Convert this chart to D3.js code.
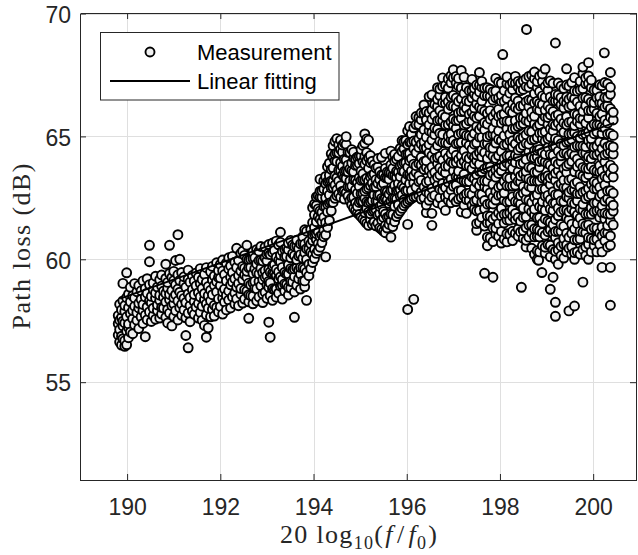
<!DOCTYPE html>
<html>
<head>
<meta charset="utf-8">
<script src="https://cdn.jsdelivr.net/npm/d3@7"></script>
<style>
  body { margin: 0; background: #fff; }
  svg { display: block; }
</style>
</head>
<body>
<div id="chart"></div>
<script>
// axis ticks
const xTicks = [190, 192, 194, 196, 198, 200];
const yTicks = [55, 60, 65, 70];
const legendLabels = ['Measurement', 'Linear fitting'];

// linear fit end points
const fitX = [189.85, 200.45];
const fitY = [58.4, 65.55];

// measured points, grouped by x position: [x, [y values]]
const measColumns = [
[189.81,[56.92,57.38,57.71]],
[189.84,[56.63,57.14,57.52,58.17]],
[189.88,[56.51,56.87,57.63,57.94]],
[189.91,[56.77,57.29,57.48,58.31,59.02]],
[189.95,[56.46,56.69,57.41,57.88,58.12]],
[189.99,[56.52,57.07,57.66,58.44,59.45]],
[190.03,[56.81,57.22,57.37,58.03,58.58]],
[190.07,[57.04,57.79,58.27,58.86]],
[190.12,[56.97,57.58,57.92,58.51]],
[190.16,[57.33,58.09,58.43,59.01]],
[190.21,[57.52,57.83,58.68]],
[190.25,[57.18,58.02,58.21,58.93]],
[190.3,[57.66,58.37,58.72]],
[190.34,[57.39,57.91,58.16,59.12]],
[190.39,[56.85,57.73,58.47,58.81]],
[190.43,[57.54,58.06,58.62,59.21]],
[190.48,[57.86,58.31,58.97,59.9,60.57]],
[190.52,[57.47,58.23,58.49]],
[190.56,[57.71,58.01,58.76,59.04]],
[190.61,[57.56,58.42,58.63,59.31]],
[190.65,[57.92,58.14,58.87]],
[190.7,[57.61,58.33,58.54,59.17]],
[190.74,[57.77,58.04,58.91,59.36]],
[190.78,[58.02,58.46,58.71]],
[190.83,[57.64,58.26,58.61,59.22,59.8]],
[190.87,[57.41,57.96,58.82,59.06]],
[190.91,[57.81,58.36,58.57,59.42,60.57]],
[190.96,[57.29,58.11,58.73,59.26]],
[191.0,[57.67,58.19,58.44,59.13,59.51]],
[191.04,[57.91,58.56,58.96,59.95]],
[191.09,[57.53,58.31,58.79,59.37,61.0]],
[191.13,[58.03,58.66,59.14,60.0]],
[191.17,[57.72,58.17,58.52,59.46]],
[191.22,[57.94,58.41,59.02,59.29]],
[191.26,[56.9,57.62,58.24,58.86]],
[191.31,[56.4,57.81,58.59,59.19,59.56]],
[191.35,[57.46,58.12,58.44,59.07]],
[191.4,[57.89,58.77,59.34]],
[191.44,[57.76,58.28,58.57,59.11]],
[191.48,[58.06,58.92,59.44]],
[191.53,[57.61,58.21,58.64,59.27]],
[191.57,[57.84,58.47,59.01,59.62]],
[191.61,[57.52,58.09,58.81,59.18]],
[191.66,[57.31,58.36,58.61,59.39]],
[191.7,[56.83,57.74,58.19,59.06,59.66]],
[191.74,[57.21,58.01,58.52,58.89]],
[191.79,[57.66,58.31,58.74,59.49]],
[191.83,[57.96,58.56,59.16,59.71]],
[191.87,[57.69,58.13,58.94,59.32]],
[191.92,[58.04,58.67,59.09,59.86]],
[191.96,[57.86,58.39,59.26,59.54]],
[192.0,[58.08,58.93,59.24,59.79]],
[192.05,[57.77,58.41,58.67,59.53,59.97]],
[192.09,[58.26,58.79,59.38]],
[192.13,[57.94,58.52,59.12,59.84]],
[192.18,[58.34,58.71,59.61,60.06]],
[192.22,[58.02,58.96,59.27,59.73]],
[192.26,[58.47,59.08,59.46,60.12]],
[192.31,[58.18,58.63,59.21,59.88]],
[192.35,[58.39,58.87,59.67,60.45]],
[192.39,[58.11,59.02,59.34,59.96]],
[192.44,[58.58,58.81,59.52,60.24]],
[192.48,[58.22,59.17,59.71,60.33]],
[192.52,[58.38,58.76,59.37,59.64,60.16]],
[192.57,[58.71,59.27,59.51,60.0,60.57]],
[192.61,[57.6,58.27,58.56,59.03,59.66,59.97]],
[192.65,[58.52,58.96,59.67,60.0]],
[192.7,[58.19,58.5,59.04,59.42,60.03,60.3]],
[192.74,[58.83,59.1,59.62,60.06]],
[192.78,[58.31,58.8,59.46,59.81,60.39]],
[192.83,[58.47,59.1,59.41,59.95,60.33]],
[192.87,[58.92,59.63,59.96,60.52]],
[192.91,[58.24,58.59,59.17,59.46,59.93]],
[192.96,[58.66,59.27,59.54,60.06,60.5]],
[193.0,[58.41,58.95,59.33,59.94,60.21]],
[193.04,[57.44,58.86,59.1,59.59,60.25,60.6]],
[193.07,[56.83,58.52,59.04,59.48,60.19]],
[193.12,[58.33,58.8,59.43,59.74,60.28,60.66]],
[193.16,[58.77,59.43,59.78,60.36]],
[193.2,[58.46,58.79,59.35,59.59,60.08,60.74]],
[193.25,[58.62,59.2,59.49,59.96,60.59]],
[193.29,[58.91,59.29,59.9,60.17,60.69,61.1]],
[193.33,[58.38,58.94,59.18,59.67,60.33]],
[193.38,[58.71,59.0,59.47,60.1,60.41]],
[193.42,[58.97,59.41,60.12,60.45]],
[193.46,[58.55,58.86,59.4,59.78,60.39,60.66]],
[193.51,[58.83,59.1,59.62,60.06,60.77]],
[193.55,[59.08,59.57,60.23,60.58]],
[193.59,[57.64,58.67,59.3,59.61,60.15,60.53]],
[193.64,[58.94,59.65,59.98,60.54,60.78]],
[193.68,[59.21,59.56,60.14,60.43]],
[193.72,[58.79,59.4,59.67,60.19,60.63]],
[193.77,[59.12,59.66,60.04,60.65,60.92]],
[193.81,[58.88,59.12,59.61,60.27,60.62,61.2]],
[193.85,[58.33,59.47,59.99,60.43,61.14]],
[193.9,[59.33,59.8,60.43,60.74]],
[193.94,[59.62,60.28,60.63,61.21]],
[193.98,[59.87,60.2,60.76,61.0,61.49,62.1]],
[194.02,[60.03,60.41,61.02,61.29,61.81,62.25]],
[194.06,[60.24,60.8,61.04,61.53,62.19,62.54]],
[194.1,[60.35,60.64,61.11,61.74,62.05,62.59]],
[194.14,[60.49,60.93,61.64,61.97,62.53,62.77,63.26]],
[194.18,[60.68,60.99,61.53,61.91,62.52,62.79]],
[194.22,[60.92,61.19,61.71,62.15,62.86,63.19]],
[194.26,[60.1,61.0,61.49,62.15,62.5,63.08,63.37]],
[194.3,[61.3,61.93,62.24,62.78,63.16,63.77]],
[194.34,[61.58,62.29,62.62,63.18,63.42,63.91]],
[194.38,[61.97,62.32,62.9,63.19,63.66,64.29]],
[194.42,[62.31,62.92,63.19,63.71,64.15,64.62]],
[194.46,[62.48,63.02,63.4,64.01,64.28,64.8]],
[194.5,[62.59,62.83,63.32,63.98,64.33,64.91]],
[194.54,[62.66,63.18,63.62,64.33,64.66]],
[194.58,[62.52,62.99,63.62,63.93,64.47,64.85]],
[194.62,[62.77,63.43,63.78,64.36,64.65]],
[194.66,[62.45,62.78,63.34,63.58,64.07,64.73]],
[194.7,[62.71,63.29,63.58,64.05,64.68,64.99]],
[194.74,[62.57,62.95,63.56,63.83,64.35]],
[194.78,[62.39,62.95,63.19,63.68,64.34]],
[194.82,[62.22,62.51,62.98,63.61,63.92,64.46]],
[194.86,[62.08,62.52,63.23,63.56,64.12,64.36]],
[194.9,[61.98,62.29,62.83,63.21,63.82,64.09]],
[194.94,[61.89,62.16,62.68,63.12,63.83,64.16]],
[194.98,[61.82,62.31,62.97,63.32,63.9,64.19]],
[195.02,[61.73,62.36,62.67,63.21,63.59,64.2,64.47]],
[195.06,[61.64,62.35,62.68,63.24,63.48,63.97,64.63]],
[195.1,[61.55,61.9,62.48,62.77,63.24,63.87,64.18,64.72,65.1]],
[195.14,[61.46,62.07,62.34,62.86,63.3,64.01,64.34,64.9]],
[195.18,[61.38,61.92,62.3,62.91,63.18,63.7,64.14,64.85]],
[195.22,[61.61,61.85,62.34,63.0,63.35,63.93,64.22]],
[195.26,[61.43,61.95,62.39,63.1,63.43,63.99]],
[195.3,[61.52,61.99,62.62,62.93,63.47,63.85]],
[195.34,[61.36,62.02,62.37,62.95,63.24,63.71]],
[195.38,[61.47,61.8,62.36,62.6,63.09,63.75,64.1]],
[195.42,[61.28,61.86,62.15,62.62,63.25,63.56]],
[195.46,[61.22,61.6,62.21,62.48,63.0,63.44,64.15]],
[195.5,[61.14,61.7,61.94,62.43,63.09,63.44]],
[195.54,[61.08,61.37,61.84,62.47,62.78,63.32,63.7,64.31]],
[195.58,[61.27,61.71,62.42,62.75,63.31,63.55]],
[195.62,[61.42,61.73,62.27,62.65,63.26,63.53]],
[195.66,[60.9,61.57,61.84,62.36,62.8,63.51,63.84,64.4]],
[195.7,[61.33,61.82,62.48,62.83,63.41,63.7,64.17]],
[195.74,[61.53,62.16,62.47,63.01,63.39,64.0,64.27]],
[195.78,[61.74,62.45,62.78,63.34,63.58,64.07]],
[195.82,[61.86,62.21,62.79,63.08,63.55,64.18]],
[195.86,[61.96,62.57,62.84,63.36,63.8,64.51]],
[195.9,[62.07,62.61,62.99,63.6,63.87,64.39,64.83]],
[195.94,[62.18,62.42,62.91,63.57,63.92,64.5,64.79]],
[195.98,[62.27,62.79,63.23,63.94,64.27,64.83]],
[196.02,[57.96,61.42,62.34,62.81,63.44,63.75,64.29,64.67,65.23]],
[196.06,[62.42,63.08,63.43,64.01,64.3,64.77,65.4]],
[196.1,[62.47,62.8,63.36,63.6,64.09,64.75,65.1]],
[196.15,[58.37,62.53,63.11,63.4,63.87,64.5,64.81,65.35]],
[196.2,[62.55,62.93,63.54,63.81,64.33,64.77,65.48,65.81]],
[196.26,[62.6,63.16,63.4,63.89,64.55,64.9,65.48,65.77]],
[196.31,[62.45,62.74,63.21,63.84,64.15,64.69,65.07,65.68,65.95]],
[196.37,[62.5,62.94,63.65,63.98,64.54,64.78,65.27,65.93,66.28]],
[196.42,[61.9,62.21,62.75,63.13,63.74,64.01,64.53,64.97,65.68,66.01]],
[196.48,[62.4,62.67,63.19,63.63,64.34,64.67,65.23,65.47,65.96,66.62]],
[196.54,[61.38,61.87,62.53,62.88,63.46,63.75,64.22,64.85,65.16,65.7,66.08,66.69]],
[196.6,[62.6,63.23,63.54,64.08,64.46,65.07,65.34,65.86,66.3]],
[196.66,[62.3,63.01,63.34,63.9,64.14,64.63,65.29,65.64,66.22,66.51,66.98]],
[196.71,[62.5,62.85,63.43,63.72,64.19,64.82,65.13,65.67,66.05,66.66,66.93]],
[196.77,[62.2,62.81,63.08,63.6,64.04,64.75,65.08,65.64,65.88,66.37,67.03,67.38]],
[196.83,[61.99,62.53,62.91,63.52,63.79,64.31,64.75,65.46,65.79,66.35,66.59,67.08]],
[196.89,[62.4,62.64,63.13,63.79,64.14,64.72,65.01,65.48,66.11,66.42,66.96,67.34]],
[196.95,[62.3,62.82,63.26,63.97,64.3,64.86,65.1,65.59,66.25,66.6,67.18,67.47]],
[197.0,[62.5,62.97,63.6,63.91,64.45,64.83,65.44,65.71,66.23,66.67,67.38,67.71]],
[197.06,[62.35,63.01,63.36,63.94,64.23,64.7,65.33,65.64,66.18,66.56,67.17,67.44]],
[197.11,[62.45,62.78,63.34,63.58,64.07,64.73,65.08,65.66,65.95,66.42,67.05,67.36]],
[197.17,[61.93,62.51,62.8,63.27,63.9,64.21,64.75,65.13,65.74,66.01,66.53,66.97,67.68]],
[197.23,[62.2,62.58,63.19,63.46,63.98,64.42,65.13,65.46,66.02,66.26,66.75,67.41]],
[197.28,[61.87,62.43,62.67,63.16,63.82,64.17,64.75,65.04,65.51,66.14,66.45,66.99]],
[197.34,[62.4,62.69,63.16,63.79,64.1,64.64,65.02,65.63,65.9,66.42,66.86]],
[197.4,[62.2,62.64,63.35,63.68,64.24,64.48,64.97,65.63,65.98,66.56,66.85,67.32]],
[197.45,[62.05,62.36,62.9,63.28,63.89,64.16,64.68,65.12,65.83,66.16,66.72,66.96]],
[197.5,[61.18,61.45,61.97,62.41,63.12,63.45,64.01,64.25,64.74,65.4,65.75,66.33,66.62,67.09]],
[197.56,[61.5,61.99,62.65,63.0,63.58,63.87,64.34,64.97,65.28,65.82,66.2,66.81,67.08,67.6]],
[197.61,[61.7,62.33,62.64,63.18,63.56,64.17,64.44,64.96,65.4,66.11,66.44,67.0,67.24]],
[197.67,[59.43,61.35,62.06,62.39,62.95,63.19,63.68,64.34,64.69,65.27,65.56,66.03,66.66,66.97]],
[197.73,[60.55,60.9,61.48,61.77,62.24,62.87,63.18,63.72,64.1,64.71,64.98,65.5,65.94,66.65,66.98]],
[197.79,[60.87,61.48,61.75,62.27,62.71,63.42,63.75,64.31,64.55,65.04,65.7,66.05,66.63,66.92]],
[197.85,[59.27,60.72,61.26,61.64,62.25,62.52,63.04,63.48,64.19,64.52,65.08,65.32,65.81,66.47,66.82]],
[197.91,[61.02,61.26,61.75,62.41,62.76,63.34,63.63,64.1,64.73,65.04,65.58,65.96,66.57,66.84,67.36]],
[197.97,[60.93,61.45,61.89,62.6,62.93,63.49,63.73,64.22,64.88,65.23,65.81,66.1,66.57,67.2]],
[198.03,[60.66,61.13,61.76,62.07,62.61,62.99,63.6,63.87,64.39,64.83,65.54,65.87,66.43,66.67,67.16]],
[198.06,[68.33]],
[198.09,[60.82,61.48,61.83,62.41,62.7,63.17,63.8,64.11,64.65,65.03,65.64,65.91,66.43,66.87]],
[198.15,[60.71,61.04,61.6,61.84,62.33,62.99,63.34,63.92,64.21,64.68,65.31,65.62,66.16,66.54,67.15,67.42]],
[198.21,[61.01,61.59,61.88,62.35,62.98,63.29,63.83,64.21,64.82,65.09,65.61,66.05,66.76,67.09]],
[198.27,[60.76,61.14,61.75,62.02,62.54,62.98,63.69,64.02,64.58,64.82,65.31,65.97,66.32,66.9,67.19]],
[198.33,[61.06,61.62,61.86,62.35,63.01,63.36,63.94,64.23,64.7,65.33,65.64,66.18,66.56,67.17,67.44]],
[198.39,[60.94,61.23,61.7,62.33,62.64,63.18,63.56,64.17,64.44,64.96,65.4,66.11,66.44,67.0,67.24]],
[198.44,[61.11,61.55,62.26,62.59,63.15,63.39,63.88,64.54,64.89,65.47,65.76,66.23,66.86,67.17]],
[198.46,[58.86]],
[198.5,[60.85,61.16,61.7,62.08,62.69,62.96,63.48,63.92,64.63,64.96,65.52,65.76,66.25,66.91,67.26]],
[198.56,[60.5,60.77,61.29,61.73,62.44,62.77,63.33,63.57,64.06,64.72,65.07,65.65,65.94,66.41,67.04,67.35]],
[198.57,[69.35]],
[198.62,[60.9,61.39,62.05,62.4,62.98,63.27,63.74,64.37,64.68,65.22,65.6,66.21,66.48,67.0,67.44]],
[198.68,[60.45,61.08,61.39,61.93,62.31,62.92,63.19,63.71,64.15,64.86,65.19,65.75,65.99,66.48,67.14,67.49]],
[198.74,[60.2,60.91,61.24,61.8,62.04,62.53,63.19,63.54,64.12,64.41,64.88,65.51,65.82,66.36,66.74,67.35,67.62]],
[198.8,[60.0,60.35,60.93,61.22,61.69,62.32,62.63,63.17,63.55,64.16,64.43,64.95,65.39,66.1,66.43,66.99,67.23]],
[198.83,[59.96]],
[198.85,[60.3,60.91,61.18,61.7,62.14,62.85,63.18,63.74,63.98,64.47,65.13,65.48,66.06,66.35,66.82,67.45]],
[198.9,[59.46]],
[198.91,[60.55,61.09,61.47,62.08,62.35,62.87,63.31,64.02,64.35,64.91,65.15,65.64,66.3,66.65,67.23,67.54]],
[198.97,[60.25,60.49,60.98,61.64,61.99,62.57,62.86,63.33,63.96,64.27,64.81,65.19,65.8,66.07,66.59,67.03,67.74]],
[199.03,[60.6,61.12,61.56,62.27,62.6,63.16,63.4,63.89,64.55,64.9,65.48,65.77,66.24,66.87,67.18]],
[199.08,[58.78,60.1,60.57,61.2,61.51,62.05,62.43,63.04,63.31,63.83,64.27,64.98,65.31,65.87,66.11,66.6,67.26]],
[199.14,[59.27,60.4,61.06,61.41,61.99,62.28,62.75,63.38,63.69,64.23,64.61,65.22,65.49,66.01,66.45,67.16]],
[199.19,[57.68,58.25,60.0,60.33,60.89,61.13,61.62,62.28,62.63,63.21,63.5,63.97,64.6,64.91,65.45,65.83,66.44,66.71,68.8]],
[199.25,[59.8,60.38,60.67,61.14,61.77,62.08,62.62,63.0,63.61,63.88,64.4,64.84,65.55,65.88,66.44,66.68,67.17]],
[199.31,[60.15,60.53,61.14,61.41,61.93,62.37,63.08,63.41,63.97,64.21,64.7,65.36,65.71,66.29,66.58,67.05]],
[199.37,[60.05,60.61,60.85,61.34,62.0,62.35,62.93,63.22,63.69,64.32,64.63,65.17,65.55,66.16,66.43,66.95]],
[199.43,[60.3,60.59,61.06,61.69,62.0,62.54,62.92,63.53,63.8,64.32,64.76,65.47,65.8,66.36,66.6,67.09,67.75]],
[199.48,[57.9,60.45,60.89,61.6,61.93,62.49,62.73,63.22,63.88,64.23,64.81,65.1,65.57,66.2,66.51,67.05]],
[199.54,[60.2,60.51,61.05,61.43,62.04,62.31,62.83,63.27,63.98,64.31,64.87,65.11,65.6,66.26,66.61,67.19]],
[199.6,[58.1,60.0,60.27,60.79,61.23,61.94,62.27,62.83,63.07,63.56,64.22,64.57,65.15,65.44,65.91,66.54,66.85,67.39]],
[199.66,[60.3,60.79,61.45,61.8,62.38,62.67,63.14,63.77,64.08,64.62,65.0,65.61,65.88,66.4,66.84]],
[199.72,[60.2,60.83,61.14,61.68,62.06,62.67,62.94,63.46,63.9,64.61,64.94,65.5,65.74,66.23,66.89,67.24]],
[199.78,[59.07,60.4,61.11,61.44,62.0,62.24,62.73,63.39,63.74,64.32,64.61,65.08,65.71,66.02,66.56,66.94,67.55,67.82]],
[199.84,[60.15,60.5,61.08,61.37,61.84,62.47,62.78,63.32,63.7,64.31,64.58,65.1,65.54,66.25,66.58,67.14,67.38]],
[199.9,[60.0,60.61,60.88,61.4,61.84,62.55,62.88,63.44,63.68,64.17,64.83,65.18,65.76,66.05,66.52,67.15,67.46,68.0]],
[199.96,[60.3,60.84,61.22,61.83,62.1,62.62,63.06,63.77,64.1,64.66,64.9,65.39,66.05,66.4,66.98,67.29]],
[200.02,[60.55,60.79,61.28,61.94,62.29,62.87,63.16,63.63,64.26,64.57,65.11,65.49,66.1,66.37,66.89]],
[200.08,[60.3,60.82,61.26,61.97,62.3,62.86,63.1,63.59,64.25,64.6,65.18,65.47,65.94,66.57,66.88]],
[200.14,[60.6,61.07,61.7,62.01,62.55,62.93,63.54,63.81,64.33,64.77,65.48,65.81,66.37,66.61,67.1]],
[200.19,[59.67,60.3,60.96,61.31,61.89,62.18,62.65,63.28,63.59,64.13,64.51,65.12,65.39,65.91,66.35,67.06]],
[200.24,[68.4]],
[200.25,[60.75,61.08,61.64,61.88,62.37,63.03,63.38,63.96,64.25,64.72,65.35,65.66,66.2,66.58,67.19]],
[200.31,[60.5,61.08,61.37,61.84,62.47,62.78,63.32,63.7,64.31,64.58,65.1,65.54,66.25,66.58,67.14]],
[200.37,[58.13,59.67,60.57,60.95,61.56,61.83,62.35,62.79,63.5,63.83,64.39,64.63,65.12,65.78,66.13,66.71,67.0,67.6]],
[200.43,[61.4,61.96,62.2,62.69,63.35,63.7,64.28,64.57,65.04,65.67,65.98]]
];

var W = 638, H = 555;
var axisColor = '#262626';
var sans = '"Liberation Sans", Arial, Helvetica, sans-serif';
var serif = '"Liberation Serif", "Times New Roman", serif';

var svg = d3.select('#chart').append('svg')
    .attr('width', W)
    .attr('height', H);

var x = d3.scaleLinear().domain([189, 200.93]).range([80.5, 636.5]);
var y = d3.scaleLinear().domain([51, 70]).range([480.5, 13.5]);

// grid lines
var grid = svg.append('g');
grid.selectAll('.gx').data(xTicks).enter().append('line')
    .attr('x1', d => Math.round(x(d)) + 0.5).attr('x2', d => Math.round(x(d)) + 0.5)
    .attr('y1', y(51)).attr('y2', y(70))
    .attr('stroke', '#dfdfdf');
grid.selectAll('.gy').data(yTicks).enter().append('line')
    .attr('x1', x(189)).attr('x2', x(200.93))
    .attr('y1', d => Math.round(y(d)) + 0.5).attr('y2', d => Math.round(y(d)) + 0.5)
    .attr('stroke', '#dfdfdf');

// flatten the columns into points
var points = [];
measColumns.forEach(function(c){
    c[1].forEach(function(v){ points.push([c[0], v]); });
});

svg.append('g').selectAll('circle')
    .data(points)
    .enter()
  .append('circle')
    .attr('cx', d => x(d[0]))
    .attr('cy', d => y(d[1]))
    .attr('r', 4.5)
    .attr('fill', '#f0f0f0')
    .attr('stroke', '#000')
    .attr('stroke-width', 1.9);

// fitted line
var line = d3.line().x(d => x(d[0])).y(d => y(d[1]));
svg.append('path')
    .datum(fitX.map((v, i) => [v, fitY[i]]))
    .attr('d', line)
    .attr('fill', 'none')
    .attr('stroke', '#000')
    .attr('stroke-width', 2);

// axes (ticks point inward, box all round)
function styleAxis(g){
    g.attr('font-family', sans).attr('font-size', 23);
    g.selectAll('path,line').attr('stroke', axisColor);
    g.selectAll('text').attr('fill', axisColor);
}
svg.append('g').attr('transform', 'translate(0,480)')
    .call(d3.axisBottom(x).tickValues(xTicks).tickSizeInner(-6).tickSizeOuter(0).tickPadding(18.7))
    .call(styleAxis);
svg.append('g').attr('transform', 'translate(0,13)')
    .call(d3.axisTop(x).tickValues(xTicks).tickFormat('').tickSizeInner(-6).tickSizeOuter(0))
    .call(styleAxis);
svg.append('g').attr('transform', 'translate(80,0)')
    .call(d3.axisLeft(y).tickValues(yTicks).tickSizeInner(-6).tickSizeOuter(0).tickPadding(9))
    .call(styleAxis)
    .selectAll('text').attr('dy', '0.38em');
svg.append('g').attr('transform', 'translate(636,0)')
    .call(d3.axisRight(y).tickValues(yTicks).tickFormat('').tickSizeInner(-6).tickSizeOuter(0))
    .call(styleAxis);

// axis labels
svg.append('text')
    .attr('transform', 'translate(30,246.5) rotate(-90)')
    .attr('text-anchor', 'middle')
    .attr('font-family', serif)
    .attr('font-size', 26)
    .attr('fill', axisColor)
    .attr('textLength', 166)
    .attr('lengthAdjust', 'spacing')
    .text('Path loss (dB)');

var xl = svg.append('text')
    .attr('x', 358.5).attr('y', 543)
    .attr('text-anchor', 'middle')
    .attr('font-family', serif)
    .attr('font-size', 26)
    .attr('fill', axisColor);
xl.append('tspan').text('20 log');
xl.append('tspan').attr('font-size', 18).attr('dy', 6).text('10');
xl.append('tspan').attr('dy', -6).text('(');
xl.append('tspan').attr('font-style', 'italic').attr('dx', 1).text('f');
xl.append('tspan').attr('dx', 3).text('/');
xl.append('tspan').attr('font-style', 'italic').attr('dx', 3).text('f');
xl.append('tspan').attr('font-size', 18).attr('dy', 6).text('0');
xl.append('tspan').attr('dy', -6).attr('dx', 1).text(')');
xl.attr('textLength', 157).attr('lengthAdjust', 'spacing');

// legend
var lg = svg.append('g');
lg.append('rect')
    .attr('x', 100.5).attr('y', 32.5)
    .attr('width', 238.5).attr('height', 67.5)
    .attr('fill', '#fff')
    .attr('stroke', axisColor);
lg.append('circle')
    .attr('cx', 150).attr('cy', 52).attr('r', 4.5)
    .attr('fill', '#f0f0f0').attr('stroke', '#000').attr('stroke-width', 1.9);
lg.append('line')
    .attr('x1', 110).attr('x2', 190).attr('y1', 81).attr('y2', 81)
    .attr('stroke', '#000').attr('stroke-width', 2);
lg.selectAll('text').data(legendLabels).enter().append('text')
    .attr('x', 197)
    .attr('y', (d, i) => i ? 89 : 60)
    .attr('font-family', sans)
    .attr('font-size', 22)
    .attr('fill', '#000')
    .text(d => d);
</script>
</body>
</html>
